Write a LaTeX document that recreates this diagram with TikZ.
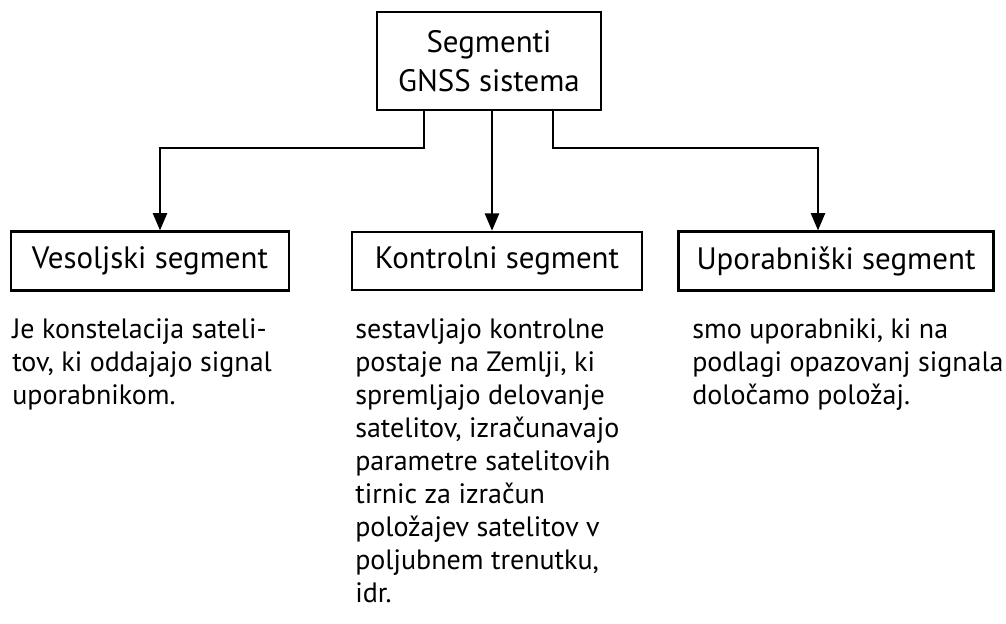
\documentclass[tikz,border=0pt]{standalone}
\usepackage{fontspec}
\setmainfont{PT Sans}
\usetikzlibrary{arrows.meta,positioning}

\tikzset{
    segbox/.style={draw, line width=1.8pt, inner sep=0pt, align=center,
        font=\fontsize{23.2}{29}\selectfont},
    desc/.style={anchor=north west, inner sep=0pt, align=left,
        font=\fontsize{21}{24.8}\selectfont},
    arr/.style={line width=1.8pt, -{Triangle[width=10.5pt,length=13pt]}},
}

\begin{document}
\begin{tikzpicture}[x=0.75pt,y=-0.75pt]
    \useasboundingbox (0,0) rectangle (1006,624);
    % segments
    \node[segbox, minimum width=168pt, minimum height=73.5pt] (top) at (489,61) {Segmenti\\GNSS sistema};
    \node[segbox, minimum width=208.5pt, minimum height=44pt] (ves) at (150,261) {Vesoljski segment};
    \node[segbox, minimum width=217.5pt, minimum height=43.5pt] (kon) at (497,261) {Kontrolni segment};
    \node[segbox, minimum width=236pt, minimum height=44pt] (upo) at (836,261) {Uporabniški segment};
    % descriptions
    \node[desc] (vesd) at (12,318) {Je konstelacija sateli-\\tov, ki oddajajo signal\\uporabnikom.};
    \node[desc] (kond) at (355,318) {sestavljajo kontrolne\\postaje na Zemlji, ki\\spremljajo delovanje\\satelitov, izračunavajo\\parametre satelitovih\\tirnic za izračun\\položajev satelitov v\\poljubnem trenutku,\\idr.};
    \node[desc] (upod) at (692,318) {smo uporabniki, ki na\\podlagi opazovanj signala\\določamo položaj.};
    % connectors
    \coordinate (bus) at (0,148);
    \coordinate (vesin) at ([xshift=7.5pt]ves.north);
    \coordinate (konin) at ([xshift=-3.75pt]kon.north);
    \coordinate (upoin) at ([xshift=-13.5pt]upo.north);
    \draw[arr] ([xshift=-48.75pt]top.south) |- (bus -| vesin) -- (vesin);
    \draw[arr] ([xshift=2.25pt]top.south) -- (konin);
    \draw[arr] ([xshift=48pt]top.south) |- (bus -| upoin) -- (upoin);
\end{tikzpicture}
\end{document}
